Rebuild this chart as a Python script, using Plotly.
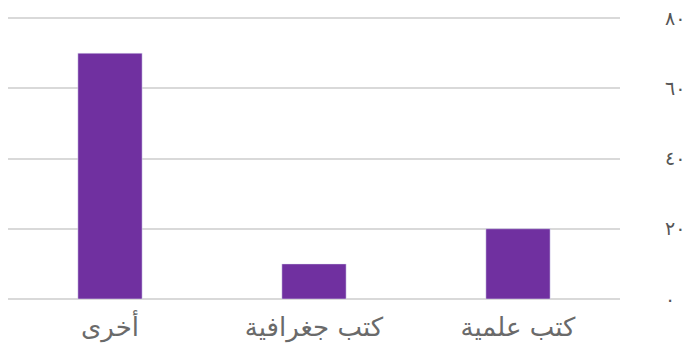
import plotly.graph_objects as go

categories = ["كتب علمية", "كتب جغرافية", "أخرى"]
values = [20, 10, 70]
tick_vals = [0, 20, 40, 60, 80]
tick_text = ["٠", "٢٠", "٤٠", "٦٠", "٨٠"]

fig = go.Figure(go.Bar(x=categories, y=values, marker_color="#7030a0", width=0.315))

fig.update_layout(
    width=694, height=349,
    margin=dict(l=8, r=74, t=17, b=50),
    plot_bgcolor="white", paper_bgcolor="white",
    showlegend=False,
    font=dict(family="DejaVu Sans", color="#666666"),
)
fig.update_xaxes(autorange="reversed", showline=False, ticks="", automargin=False,
                 tickfont=dict(size=26, color="#6a6a6a"), showgrid=False,
                 ticklabelstandoff=10)
fig.update_yaxes(side="right", range=[0, 80.3], tickvals=tick_vals, ticktext=tick_text,
                 automargin=False,
                 showgrid=True, gridcolor="#d9d9d9", gridwidth=1.5,
                 zeroline=True, zerolinecolor="#d9d9d9", zerolinewidth=1.5,
                 tickfont=dict(size=19, color="#555555"), ticklabelstandoff=44)

fig.write_html("out.html", config={"displayModeBar": False},
               post_script="document.body.style.margin='0';document.body.style.overflow='hidden';")
